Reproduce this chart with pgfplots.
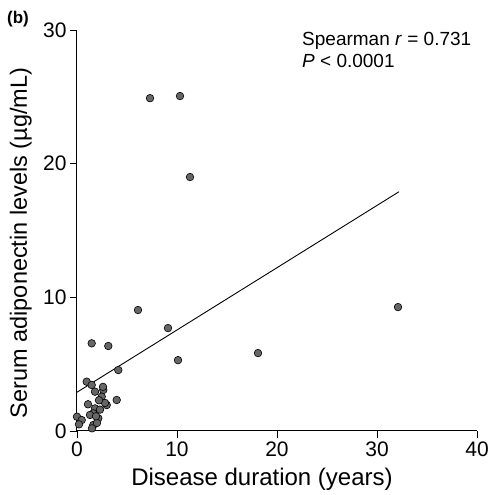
\documentclass[border=0pt]{standalone}
\usepackage{fontspec}
\setmainfont{Liberation Sans}
\usepackage{pgfplots}
\pgfplotsset{compat=1.18}
\begin{document}
\begin{tikzpicture}[x=1pt,y=1pt]
\useasboundingbox (0,0) rectangle (494,495);
\node[anchor=base west, font=\fontsize{17}{17}\selectfont\bfseries, inner sep=0pt] at (7,471) {(b)};
\begin{axis}[
  at={(77pt,64pt)}, anchor=south west,
  scale only axis, width=400pt, height=401pt,
  xmin=0, xmax=40, ymin=0, ymax=30,
  axis lines=left,
  axis line style={-, line width=1pt},
  xtick={0,10,20,30,40}, ytick={0,10,20,30},
  tick align=outside, major tick length=7pt,
  tick style={black, line width=0.9pt},
  ticklabel style={font=\fontsize{21}{21}\selectfont},
  /pgf/number format/assume math mode=true,
  xlabel={Disease duration (years)},
  ylabel={Serum adiponectin levels (µg/mL)},
  xlabel style={font=\fontsize{24}{24}\selectfont, at={(axis description cs:0.4625,-0.1347)}, anchor=base},
  ylabel style={font=\fontsize{23.5}{23.5}\selectfont, at={(axis description cs:-0.125,0.469)}, anchor=base},
  clip=false,
]
\addplot[only marks, mark=*, mark size=3.8pt, mark options={fill=black!60, draw=black, line width=0.6pt}] coordinates {
(7.3,24.9) (10.3,25.06) (11.3,19.0) (32.1,9.27) (18.1,5.83) (10.1,5.3) (9.1,7.7) (6.1,9.05)
(1.47,6.56) (3.13,6.36) (4.13,4.56)
(0.97,3.69) (1.47,3.44) (1.8,2.94) (2.63,3.07) (2.47,2.57) (3.97,2.32) (2.97,1.94)
(1.8,1.69) (1.63,1.32) (1.3,1.2) (2.13,0.95) (1.63,0.45) (1.5,0.2) (2.0,0.6)
(0.0,1.07) (0.47,0.82) (0.2,0.5) (2.8,2.1) (2.2,2.3) (1.1,2.0) (2.6,3.3) (1.9,1.1) (2.3,1.6)
};
\addplot[black, line width=0.9pt] coordinates {(0,2.9) (32.2,17.9)};
\node[anchor=base west, font=\fontsize{19}{19}\selectfont, inner sep=0pt] at (axis cs:22.5,28.87) {Spearman \textit{r} = 0.731};
\node[anchor=base west, font=\fontsize{19}{19}\selectfont, inner sep=0pt] at (axis cs:22.5,27.23) {\textit{P} < 0.0001};
\end{axis}
\end{tikzpicture}
\end{document}
